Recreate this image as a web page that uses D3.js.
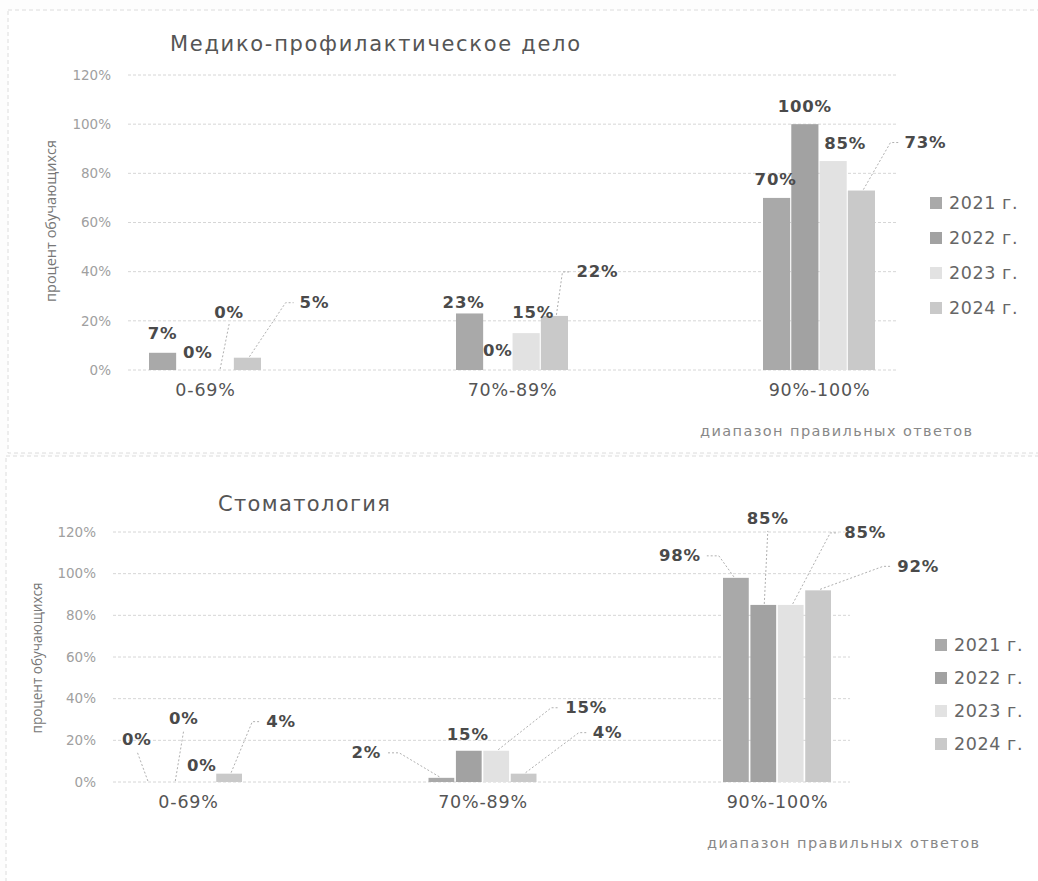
<!DOCTYPE html>
<html>
<head>
<meta charset="utf-8">
<script src="https://cdn.jsdelivr.net/npm/d3@7"></script>
<style>
  html, body { margin: 0; padding: 0; background: #fdfdfd; }
  svg { display: block; }
</style>
</head>
<body>
<svg id="chart" width="1038" height="881"></svg>
<script>
// ---------- DATA ----------
const categories = ["0-69%", "70%-89%", "90%-100%"];
const years = ["2021 г.", "2022 г.", "2023 г.", "2024 г."];
const yTicks = [0, 20, 40, 60, 80, 100, 120];

// Медико-профилактическое дело
const mpd2021 = [7, 23, 70];
const mpd2022 = [0, 0, 100];
const mpd2023 = [0, 15, 85];
const mpd2024 = [5, 22, 73];

// Стоматология
const stom2021 = [0, 2, 98];
const stom2022 = [0, 15, 85];
const stom2023 = [0, 15, 85];
const stom2024 = [4, 4, 92];

const titleTop = "Медико-профилактическое дело";
const titleBottom = "Стоматология";
const yTitle = "процент обучающихся";
const xTitle = "диапазон правильных ответов";

// ---------- STYLE / LAYOUT ----------
const colors = ["#a9a9a9", "#a2a2a2", "#e2e2e2", "#c9c9c9"];

// label offsets relative to bar top centre: [dx, dy, leader]
// leader: null | "left" (ends at left of label) | "bottom" | "right"
const topLabelLayout = [
  [[0, -19, null], [-6, -11, null], [-1, -18, null]],
  [[7, -18, null], [0, -20, null], [0, -18, null]],
  [[10, -58, "bottom"], [7, -21, null], [12, -18, null]],
  [[67, -55, "left"], [43, -44, "left"], [64, -48, "left"]]
];
const bottomLabelLayout = [
  [[-10, -43, "bottom"], [-75, -25, "right"], [-56, -22, "right"]],
  [[9.5, -64, "bottom"], [-1, -16, null], [4.5, -86, "bottom"]],
  [[0, -17, null], [90, -43, "left"], [74.5, -72, "left"]],
  [[52, -52, "left"], [84, -41, "left"], [100, -24, "left"]]
];

const svg = d3.select("#chart");

// frames (scanned page boxes)
svg.append("rect").attr("x", 8).attr("y", 10).attr("width", 1040).attr("height", 443)
  .attr("fill", "#ffffff").attr("stroke", "#dcdcdc").attr("stroke-dasharray", "4,3");
svg.append("rect").attr("x", 6).attr("y", 456).attr("width", 1040).attr("height", 440)
  .attr("fill", "#ffffff").attr("stroke", "#dcdcdc").attr("stroke-dasharray", "4,3");

function drawChart(cfg) {
  const g = svg.append("g");
  const y = d3.scaleLinear().domain([0, 120]).range([cfg.y0, cfg.y120]);
  const xg = d3.scalePoint().domain(categories).range(cfg.groupRange);
  const xs = d3.scaleBand().domain(years).range([-cfg.half, cfg.half]).paddingInner(cfg.pad);

  // gridlines
  g.selectAll("line.grid").data(yTicks).join("line")
    .attr("x1", cfg.gridX[0]).attr("x2", cfg.gridX[1])
    .attr("y1", d => y(d)).attr("y2", d => y(d))
    .attr("stroke", "#d6d6d6").attr("stroke-width", 1)
    .attr("stroke-dasharray", "3,2");

  // y axis tick labels via d3 axis
  const yAxis = d3.axisLeft(y).tickValues(yTicks).tickFormat(d => d + "%").tickSize(0).tickPadding(0);
  const ya = g.append("g").attr("transform", `translate(${cfg.tickX},0)`).call(yAxis);
  ya.select(".domain").remove();
  ya.selectAll("text").attr("font-family", "DejaVu Sans").attr("font-size", 13.5)
    .attr("fill", "#a0a0a0");

  // bars
  cfg.series.forEach((vals, si) => {
    g.selectAll(null).data(vals).join("rect")
      .attr("x", (d, i) => xg(categories[i]) + xs(years[si]))
      .attr("y", d => y(d))
      .attr("width", xs.bandwidth())
      .attr("height", d => cfg.y0 - y(d))
      .attr("fill", colors[si]);
  });

  // x category labels
  const xAxis = d3.axisBottom(xg).tickSize(0).tickPadding(0);
  const xa = g.append("g").attr("transform", `translate(0,${cfg.catY})`).call(xAxis);
  xa.select(".domain").remove();
  xa.selectAll("text").attr("font-family", "DejaVu Sans").attr("font-size", 17.5)
    .attr("letter-spacing", 0.8).attr("fill", "#555").attr("dy", 0);

  // data labels + leader lines
  cfg.series.forEach((vals, si) => {
    vals.forEach((v, i) => {
      const bx = xg(categories[i]) + xs(years[si]) + xs.bandwidth() / 2;
      const by = y(v);
      const [dx, dy, leader] = cfg.layout[si][i];
      const lx = bx + dx, ly = by + dy;
      const t = g.append("text").attr("x", lx).attr("y", ly)
        .attr("text-anchor", "middle").attr("dominant-baseline", "central")
        .attr("font-family", "DejaVu Sans").attr("font-weight", "bold")
        .attr("font-size", 16.5).attr("letter-spacing", 0.8)
        .attr("fill", "#4a4a4a").text(v + "%");
      if (leader) {
        const w = t.node().getComputedTextLength();
        let pts;
        if (leader === "left") {
          const ex = lx - w / 2 - 6;
          pts = [[bx + 2, by - 1], [ex - 8, ly], [ex, ly]];
        } else if (leader === "right") {
          const ex = lx + w / 2 + 6;
          pts = [[bx - 2, by - 1], [ex + 12, ly], [ex, ly]];
        } else {
          pts = [[bx + 1, by - 1], [lx, ly + 12]];
        }
        g.append("path").attr("d", d3.line()(pts))
          .attr("fill", "none").attr("stroke", "#b0b0b0").attr("stroke-width", 1)
          .attr("stroke-dasharray", "2,2");
      }
    });
  });

  // legend
  years.forEach((yr, i) => {
    const ly = cfg.legendY + i * cfg.legendStep;
    g.append("rect").attr("x", cfg.legendX).attr("y", ly - 6).attr("width", 12).attr("height", 12)
      .attr("fill", colors[i]);
    g.append("text").attr("x", cfg.legendX + 19).attr("y", ly)
      .attr("dominant-baseline", "central")
      .attr("font-family", "DejaVu Sans").attr("font-size", 17.5).attr("letter-spacing", 0.6)
      .attr("fill", "#666").text(yr);
  });

  // title
  g.append("text").attr("x", cfg.titleX).attr("y", cfg.titleY)
    .attr("dominant-baseline", "central")
    .attr("font-family", "DejaVu Sans").attr("font-size", 21)
    .attr("textLength", cfg.titleW).attr("lengthAdjust", "spacing")
    .attr("fill", "#555").text(cfg.title);

  // y title
  g.append("text")
    .attr("transform", `translate(${cfg.yTitleX},${cfg.yTitleY}) rotate(-90)`)
    .attr("text-anchor", "middle").attr("dominant-baseline", "central")
    .attr("font-family", "Open Sans").attr("font-size", 14)
    .attr("textLength", cfg.yTitleW).attr("lengthAdjust", "spacingAndGlyphs")
    .attr("fill", "#777").text(yTitle);

  // x title
  g.append("text").attr("x", cfg.xTitleX).attr("y", cfg.xTitleY)
    .attr("dominant-baseline", "central")
    .attr("font-family", "DejaVu Sans").attr("font-size", 14.5)
    .attr("textLength", 272).attr("lengthAdjust", "spacing")
    .attr("fill", "#888").text(xTitle);
}

drawChart({
  series: [mpd2021, mpd2022, mpd2023, mpd2024],
  layout: topLabelLayout,
  y0: 370, y120: 75,
  groupRange: [205, 819], half: 56, pad: 0.04,
  gridX: [128, 896], tickX: 111, catY: 396,
  legendX: 930, legendY: 203, legendStep: 35,
  title: titleTop, titleX: 170, titleY: 44, titleW: 410,
  yTitleX: 50, yTitleY: 221, yTitleW: 162,
  xTitleX: 700, xTitleY: 431
});

drawChart({
  series: [stom2021, stom2022, stom2023, stom2024],
  layout: bottomLabelLayout,
  y0: 782, y120: 532,
  groupRange: [188, 777], half: 54, pad: 0.06,
  gridX: [113, 850], tickX: 96, catY: 808,
  legendX: 935, legendY: 645, legendStep: 33,
  title: titleBottom, titleX: 218, titleY: 504, titleW: 172,
  yTitleX: 36, yTitleY: 658, yTitleW: 151,
  xTitleX: 707, xTitleY: 843
});
</script>
</body>
</html>
